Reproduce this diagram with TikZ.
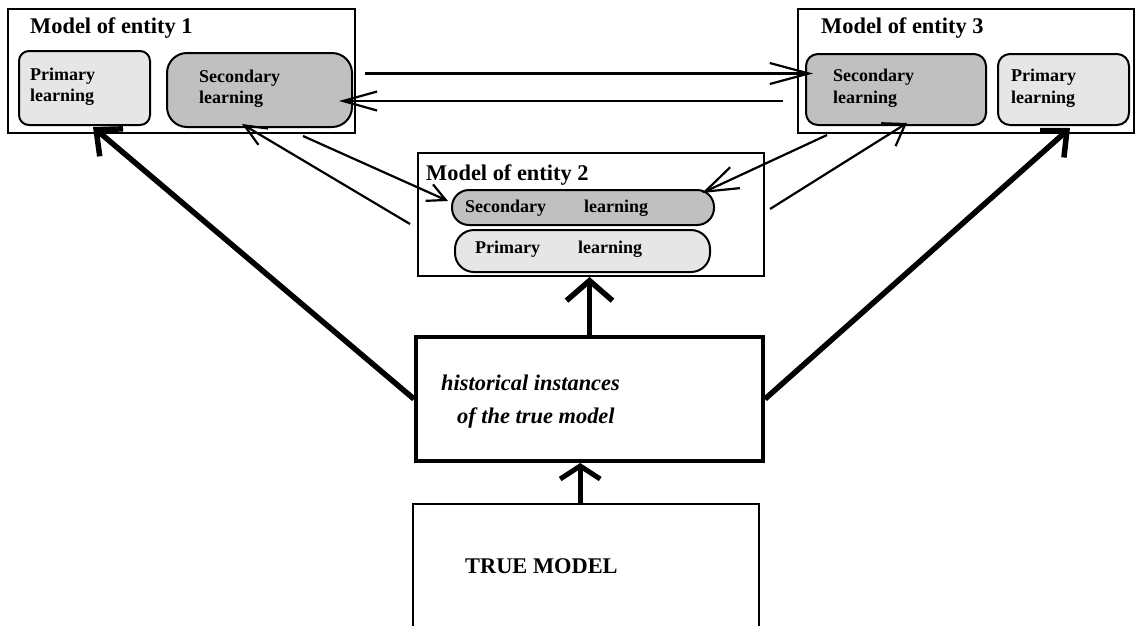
\documentclass[tikz,border=0pt]{standalone}
\usepackage{fontspec}
\setmainfont{Liberation Serif}
\usetikzlibrary{arrows.meta}

\definecolor{primfill}{RGB}{230,230,230}
\definecolor{secfill}{RGB}{192,192,192}

\tikzset{
  frame/.style={draw, line width=2pt, inner sep=0pt, anchor=north west},
  modelbox/.style={frame},
  primbox/.style={frame, fill=primfill, rounded corners=#1},
  secbox/.style={frame, fill=secfill, rounded corners=#1},
  title/.style={inner sep=0pt, anchor=base west, font=\fontsize{22.4}{26}\selectfont\bfseries},
  lbl/.style={inner sep=0pt, anchor=base west, align=left, font=\fontsize{18}{21.5}\selectfont\bfseries},
  thin/.style={line width=2.2pt},
  thick/.style={line width=5.5pt},
  barb/.style 2 args={-{Straight Barb[length=#1, width=#2]}},
}

\begin{document}
\begin{tikzpicture}[x=1pt, y=-1pt]
\useasboundingbox (0,0) rectangle (1136,625);
\clip (0,0) rectangle (1136,625);

% entity 1
\node[modelbox, minimum width=347pt, minimum height=124pt] (e1) at (7,8) {};
\node[primbox=10pt, minimum width=131pt, minimum height=74pt] (p1) at (18,50) {};
\node[secbox=20pt, minimum width=185pt, minimum height=74pt] (s1) at (166,52) {};
\node[title] (e1t) at (30,33) {Model of entity 1};
\node[lbl] (p1t) at (30,101.5) {Primary\\learning};
\node[lbl] (s1t) at (199,103.5) {Secondary\\learning};

% entity 3
\node[modelbox, minimum width=336pt, minimum height=124pt] (e3) at (797,8) {};
\node[secbox=12pt, minimum width=180pt, minimum height=71pt] (s3) at (805,53) {};
\node[primbox=12pt, minimum width=131pt, minimum height=71pt] (p3) at (997,53) {};
\node[title] (e3t) at (821,33) {Model of entity 3};
\node[lbl] (s3t) at (833,103) {Secondary\\learning};
\node[lbl] (p3t) at (1011,103) {Primary\\learning};

% entity 2
\node[modelbox, minimum width=346pt, minimum height=123pt] (e2) at (417,152) {};
\node[secbox=17pt, minimum width=262pt, minimum height=35pt] (s2) at (451,189) {};
\node[primbox=19pt, minimum width=255pt, minimum height=42pt] (p2) at (454,229) {};
\node[title] (e2t) at (426,180) {Model of entity 2};
\node[lbl] (s2t) at (465,212) {Secondary\hspace{38pt}learning};
\node[lbl] (p2t) at (475,253) {Primary\hspace{38pt}learning};

% history and true model
\node[frame, line width=4pt, minimum width=347pt, minimum height=124pt] (hist) at (414,335) {};
\node[inner sep=0pt, anchor=base west, align=left,
      font=\fontsize{22.4}{33}\selectfont\bfseries\itshape] (histt) at (441,423)
      {historical instances\\\hspace*{16pt}of the true model};
\node[frame, line width=2.4pt, minimum width=346pt, minimum height=140pt] (tm) at (412,503) {};
\node[title] (tmt) at (465,573) {TRUE MODEL};

% end points of the exchange arrows
\coordinate (aS) at (365,73.5);  \coordinate (aT) at (813,73.5);
\coordinate (bS) at (783,101);   \coordinate (bT) at (339,101);
\coordinate (cS) at (410,224);   \coordinate (cT) at (242,124);
\coordinate (dS) at (303,136);   \coordinate (dT) at (448,201);
\coordinate (eS) at (827,135);   \coordinate (eT) at (702,193);
\coordinate (fS) at (770,209);   \coordinate (fT) at (907,123);
\coordinate (gT) at (93,127);
\coordinate (hT) at (1070,128);

% exchanges between the secondary learners
\draw[thin, barb={39pt}{21pt}] (aS) -- (aT);
\draw[thin, barb={34pt}{19pt}] (bS) -- (bT);
\draw[thin, barb={22pt}{19pt}] (cS) -- (cT);
\draw[thin, barb={18pt}{18pt}] (dS) -- (dT);
\draw[thin, barb={33pt}{23pt}] (eS) -- (eT);
\draw[thin, barb={20pt}{27pt}] (fS) -- (fT);

% feeding the primary learners
\draw[thick, barb={20pt}{36pt}] (hist.west) -- (gT);
\draw[thick, barb={20pt}{36pt}] (hist.east) -- (hT);
\draw[thick, barb={20pt}{46pt}] (hist.north) -- (hist.north |- e2.south);
\draw[line width=5pt, barb={13pt}{40pt}] ([xshift=-6pt]tm.north) -- ([xshift=-6pt]tm.north |- hist.south);
\end{tikzpicture}
\end{document}
